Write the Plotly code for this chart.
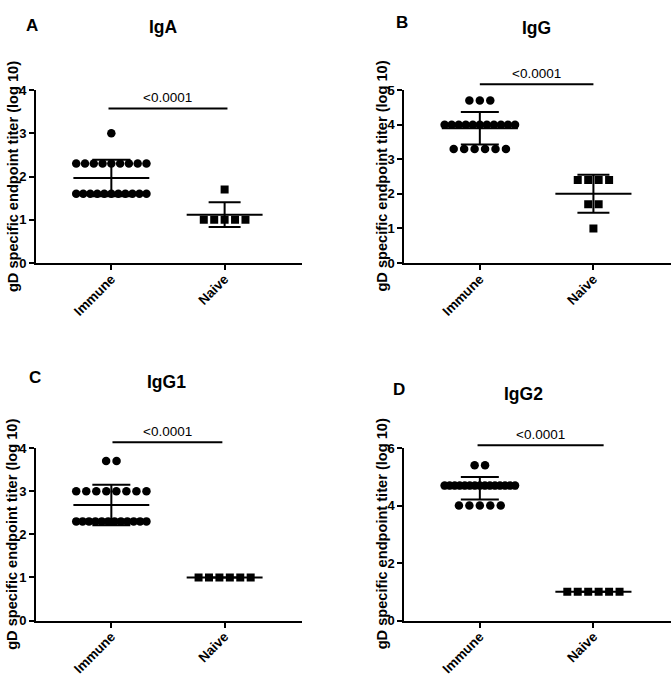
import numpy as np
import plotly.graph_objects as go

# ---------------- data ----------------
groups = ["Immune", "Naive"]
panel_letters = ["A", "B", "C", "D"]
panel_titles = ["IgA", "IgG", "IgG1", "IgG2"]
p_labels = ["<0.0001", "<0.0001", "<0.0001", "<0.0001"]
y_title = "gD specific endpoint titer (log 10)"

iga_immune = [3.0,
              2.3, 2.3, 2.3, 2.3, 2.3, 2.3, 2.3, 2.3, 2.3,
              1.6, 1.6, 1.6, 1.6, 1.6, 1.6, 1.6, 1.6, 1.6, 1.6, 1.6]
iga_naive = [1.7, 1.0, 1.0, 1.0, 1.0, 1.0]

igg_immune = [4.7, 4.7, 4.7,
              4.0, 4.0, 4.0, 4.0, 4.0, 4.0, 4.0, 4.0, 4.0, 4.0, 4.0,
              3.3, 3.3, 3.3, 3.3, 3.3, 3.3]
igg_naive = [2.4, 2.4, 2.4, 2.4, 1.7, 1.7, 1.0]

igg1_immune = [3.7, 3.7,
               3.0, 3.0, 3.0, 3.0, 3.0, 3.0, 3.0, 3.0,
               2.3, 2.3, 2.3, 2.3, 2.3, 2.3, 2.3, 2.3, 2.3, 2.3, 2.3, 2.3]
igg1_naive = [1.0, 1.0, 1.0, 1.0, 1.0, 1.0]

igg2_immune = [5.4, 5.4,
               4.7, 4.7, 4.7, 4.7, 4.7, 4.7, 4.7, 4.7, 4.7, 4.7, 4.7, 4.7, 4.7, 4.7, 4.7,
               4.0, 4.0, 4.0, 4.0, 4.0]
igg2_naive = [1.0, 1.0, 1.0, 1.0, 1.0, 1.0]

ticks_A = [0, 1, 2, 3, 4]
ticks_B = [0, 1, 2, 3, 4, 5]
ticks_C = [0, 1, 2, 3, 4]
ticks_D = [0, 2, 4, 6]

panel_data = [
    (iga_immune, iga_naive),
    (igg_immune, igg_naive),
    (igg1_immune, igg1_naive),
    (igg2_immune, igg2_naive),
]
panel_ticks = [ticks_A, ticks_B, ticks_C, ticks_D]

# ---------------- layout geometry (pixels of a 672x683 page) ----------------
W, H = 672, 683
x_dom_px = [(36, 302), (404.3, 671), (36, 302), (404.3, 671)]
y_dom_px = [(85, 261.7), (85, 261.7), (451, 627.3), (451, 627.3)]
x_range = [-0.665, 1.683]
bar_x = [(-0.025, 1.025), (0.0, 1.0), (0.01, 0.98), (-0.02, 1.09)]
bar_frac = [0.893, 1.034, 1.034, 1.017]
letter_pos = [(32, 18), (402, 14.5), (35, 378), (399, 390)]
title_pos = [(163, 18.5), (536, 20), (166, 382), (523, 394)]
ytitle_x = [12.5, 382, 12.5, 382]

FONT = "Liberation Sans, Arial, sans-serif"
BLACK = "#000000"

spacing0 = 0.092
max_width = 0.62
mean_half = 0.335
cap_px = [19, 16]
marker_sym = ["circle", "square"]
marker_size = [8.5, 8]


def spread(values, center):
    """Horizontal offsets for dots that share a value (Prism-like scatter)."""
    xs = np.zeros(len(values))
    vals = np.array(values)
    for v in dict.fromkeys(values):
        idx = np.where(vals == v)[0]
        n = len(idx)
        if n > 1:
            s = min(spacing0, max_width / (n - 1))
        else:
            s = 0
        offs = (np.arange(n) - (n - 1) / 2) * s
        xs[idx] = center + offs
    return xs


fig = go.Figure()
annotations = []
shapes = []
layout_axes = {}

for p in range(4):
    sfx = "" if p == 0 else str(p + 1)
    xa, ya = "x" + sfx, "y" + sfx
    for g, vals in enumerate(panel_data[p]):
        xs = spread(vals, g)
        fig.add_trace(go.Scatter(
            x=xs, y=vals, mode="markers", xaxis=xa, yaxis=ya,
            marker=dict(symbol=marker_sym[g], size=marker_size[g], color=BLACK,
                        line=dict(width=0)),
            hoverinfo="y", showlegend=False))
        m = float(np.mean(vals))
        sd = float(np.std(vals, ddof=1))
        fig.add_trace(go.Scatter(
            x=[g - mean_half, g + mean_half], y=[m, m], mode="lines",
            xaxis=xa, yaxis=ya, line=dict(color=BLACK, width=2),
            hoverinfo="skip", showlegend=False))
        fig.add_trace(go.Scatter(
            x=[g], y=[m], mode="markers", xaxis=xa, yaxis=ya,
            marker=dict(size=1, color="rgba(0,0,0,0)"),
            error_y=dict(type="data", array=[sd], visible=True, color=BLACK,
                         thickness=2, width=cap_px[g]),
            hoverinfo="skip", showlegend=False))

    xd = [x_dom_px[p][0] / W, x_dom_px[p][1] / W]
    yd = [1 - y_dom_px[p][1] / H, 1 - y_dom_px[p][0] / H]
    ticks = panel_ticks[p]
    layout_axes["xaxis" + sfx] = dict(
        domain=xd, anchor=ya, range=x_range, tickmode="array",
        tickvals=[0, 1], ticktext=groups, tickangle=-45,
        showline=True, linewidth=2, linecolor=BLACK, mirror=False,
        ticks="outside", ticklen=5, tickwidth=2, tickcolor=BLACK,
        ticklabelstandoff=-4,
        showgrid=False, zeroline=False, fixedrange=True,
        tickfont=dict(family=FONT, size=13.5, color=BLACK, weight="bold"))
    layout_axes["yaxis" + sfx] = dict(
        domain=yd, anchor=xa, range=[ticks[0], ticks[-1]], tickmode="array",
        tickvals=ticks, ticktext=[str(t) for t in ticks],
        showline=True, linewidth=2, linecolor=BLACK,
        ticks="outside", ticklen=5, tickwidth=2, tickcolor=BLACK,
        showgrid=False, zeroline=False, fixedrange=True,
        tickfont=dict(family=FONT, size=13, color=BLACK, weight="bold"))

    # significance bar and label
    b0, b1 = bar_x[p]
    shapes.append(dict(type="line", xref=xa, yref=ya + " domain",
                       x0=b0, x1=b1, y0=bar_frac[p], y1=bar_frac[p],
                       line=dict(color=BLACK, width=2)))
    annotations.append(dict(xref=xa, yref=ya + " domain", x=(b0 + b1) / 2,
                            y=bar_frac[p], yshift=11, text=p_labels[p],
                            showarrow=False, xanchor="center", yanchor="middle",
                            font=dict(family=FONT, size=13.5, color=BLACK)))
    # y-axis title
    annotations.append(dict(xref="paper", yref=ya + " domain",
                            x=ytitle_x[p] / W, y=0.5, text=y_title, textangle=-90,
                            showarrow=False, xanchor="center", yanchor="middle",
                            font=dict(family=FONT, size=14.6, color=BLACK,
                                      weight="bold")))
    # panel letter and title
    lx, ly = letter_pos[p]
    annotations.append(dict(xref="paper", yref="paper", x=lx / W, y=1 - (ly + 1) / H,
                            text=panel_letters[p], showarrow=False,
                            xanchor="center", yanchor="middle",
                            font=dict(family=FONT, size=17, color=BLACK,
                                      weight="bold")))
    tx, ty = title_pos[p]
    annotations.append(dict(xref="paper", yref="paper", x=tx / W, y=1 - (ty + 1.5) / H,
                            text=panel_titles[p], showarrow=False,
                            xanchor="center", yanchor="middle",
                            font=dict(family=FONT, size=17.5, color=BLACK,
                                      weight="bold")))

fig.update_layout(
    width=W, height=H, margin=dict(l=0, r=0, t=0, b=0),
    paper_bgcolor="white", plot_bgcolor="white", showlegend=False,
    font=dict(family=FONT, color=BLACK),
    annotations=annotations, shapes=shapes, **layout_axes)

fig.write_html(
    "out.html",
    config={"displayModeBar": False},
    post_script="document.body.style.margin='0';document.body.style.overflow='hidden';",
)
